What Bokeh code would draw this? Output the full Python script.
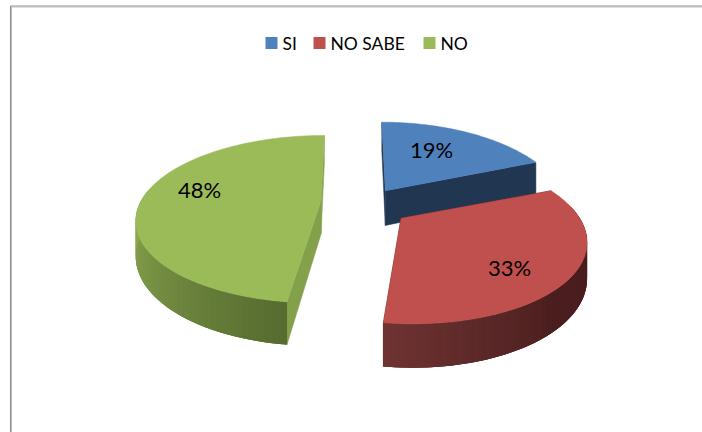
import math
from bokeh.core.properties import value
from bokeh.embed import file_html
from bokeh.models import Range1d
from bokeh.plotting import figure
from bokeh.resources import INLINE

# Survey answers, in percent
categories = ["SI", "NO SABE", "NO"]
shares = [19, 33, 48]

top_colors = ["#4F81BD", "#C0504D", "#9BBB59"]
radial_colors = ["#213650", "#4A1F1F", "#84A04B"]
wall_colors = [("#213650", "#213650"), ("#4A1E1E", "#6E3332"), ("#566B30", "#93B053")]

# Projection of the tilted pie onto the page
CX, CY = 357.0, 203.0
RX, RY, PERSP, DEPTH = 183.0, 80.0, 0.2235, 36.0
EXPLODE = [0.20, 0.27, 0.20]
NUDGE = [(8, 0), (3, 1), (0, -2)]
SCALE_X = [1.0, 0.94, 0.985]
SCALE_Y = [1.12, 0.94, 1.0]
SCALE_D = [1.0, 0.90, 0.93]
SHEAR = [0.0, 0.0, 0.05]


def project(wx, wy):
    k = 1 + PERSP * wy
    return CX + RX * wx / k, CY - RY * wy / k, DEPTH / k


def mix(c1, c2, t):
    a = [int(c1[i:i + 2], 16) for i in (1, 3, 5)]
    b = [int(c2[i:i + 2], 16) for i in (1, 3, 5)]
    return "#%02x%02x%02x" % tuple(round(p + (q - p) * t) for p, q in zip(a, b))


p = figure(width=702, height=432, x_range=Range1d(0, 702), y_range=Range1d(432, 0),
           toolbar_location=None, output_backend="svg", min_border=0)
p.axis.visible = False
p.grid.visible = False
p.outline_line_color = None

# Frame of the chart area: a dark line with a lighter one beside it
p.line([10, 10, 702], [432, 5.5, 5.5], line_color="#8C8C8C", line_width=1)
p.line([11, 11, 702], [432, 6.5, 6.5], line_color="#BDBDBD", line_width=1)

# Slice boundaries in radians, clockwise from twelve o'clock
edges = [0.0]
for s in shares:
    edges.append(edges[-1] + 2 * math.pi * s / sum(shares))

for i in [0, 2, 1]:
    start, end = edges[i], edges[i + 1]
    mid = (start + end) / 2
    ox, oy = EXPLODE[i] * math.sin(mid), EXPLODE[i] * math.cos(mid)
    ax0, ay0, ad0 = project(ox, oy)
    ax, ay = ax0 + NUDGE[i][0], ay0 + NUDGE[i][1]
    ad = ad0 * SCALE_D[i]

    steps = 90
    angles = [start + (end - start) * k / steps for k in range(steps + 1)]
    rim = []
    for a in angles:
        x, y, d = project(ox + math.sin(a), oy + math.cos(a))
        dx, dy = (x - ax0) * SCALE_X[i], (y - ay0) * SCALE_Y[i]
        rim.append((ax + dx + SHEAR[i] * dy, ay + dy, d * SCALE_D[i]))

    # Radial faces
    for (x, y, d) in (rim[0], rim[-1]):
        p.patch([ax, x, x, ax], [ay, y, y + d, ay + ad],
                fill_color=radial_colors[i], line_color=radial_colors[i], line_width=0.5)

    # Outer wall: a solid base band, then overlapping shaded strips along the arc
    c_lo, c_hi = wall_colors[i]
    front = [k for k in range(steps + 1) if math.cos(angles[k]) < 0.15]
    if front:
        band = [rim[k] for k in front]
        p.patch([r[0] for r in band] + [r[0] for r in reversed(band)],
                [r[1] for r in band] + [r[1] + r[2] for r in reversed(band)],
                fill_color=mix(c_lo, c_hi, 0.5), line_color=None)
    for k in front[:-1]:
        a_m = (angles[k] + angles[k + 1]) / 2
        if i == 1:
            t = max(0.0, min(1.0, (a_m - 2.4) / (edges[2] - 2.4)))
        else:
            t = max(0.0, min(1.0, (a_m - edges[2]) / 1.5))
        col = mix(c_lo, c_hi, t)
        x0, y0, d0 = rim[k]
        x1, y1, d1 = rim[min(k + 2, steps)]
        p.patch([x0, x1, x1, x0], [y0, y1, y1 + d1, y0 + d0],
                fill_color=col, line_color=None)

    # Top surface
    p.patch([ax] + [r[0] for r in rim], [ay] + [r[1] for r in rim],
            fill_color=top_colors[i], line_color=top_colors[i], line_width=0.5)

# Data labels
label_x = [431, 509, 199]
label_y = [149, 267, 189]
p.text(label_x, label_y, text=[f"{s}%" for s in shares], text_font=value("Lato"),
       text_font_size="22px", text_color="#000000", text_align="center", text_baseline="middle")

# Legend row
swatch_x = [271, 319, 429]
legend_x = [282, 330, 440]
legend_y = 42.5
p.rect(swatch_x, [legend_y] * 3, width=12, height=12, fill_color=top_colors, line_color=None)
p.text(legend_x, [legend_y] * 3, text=categories, text_font=value("Lato"),
       text_font_size="17.5px", text_color="#000000", text_align="left", text_baseline="middle")

open("out.html", "w").write(file_html(p, INLINE))
